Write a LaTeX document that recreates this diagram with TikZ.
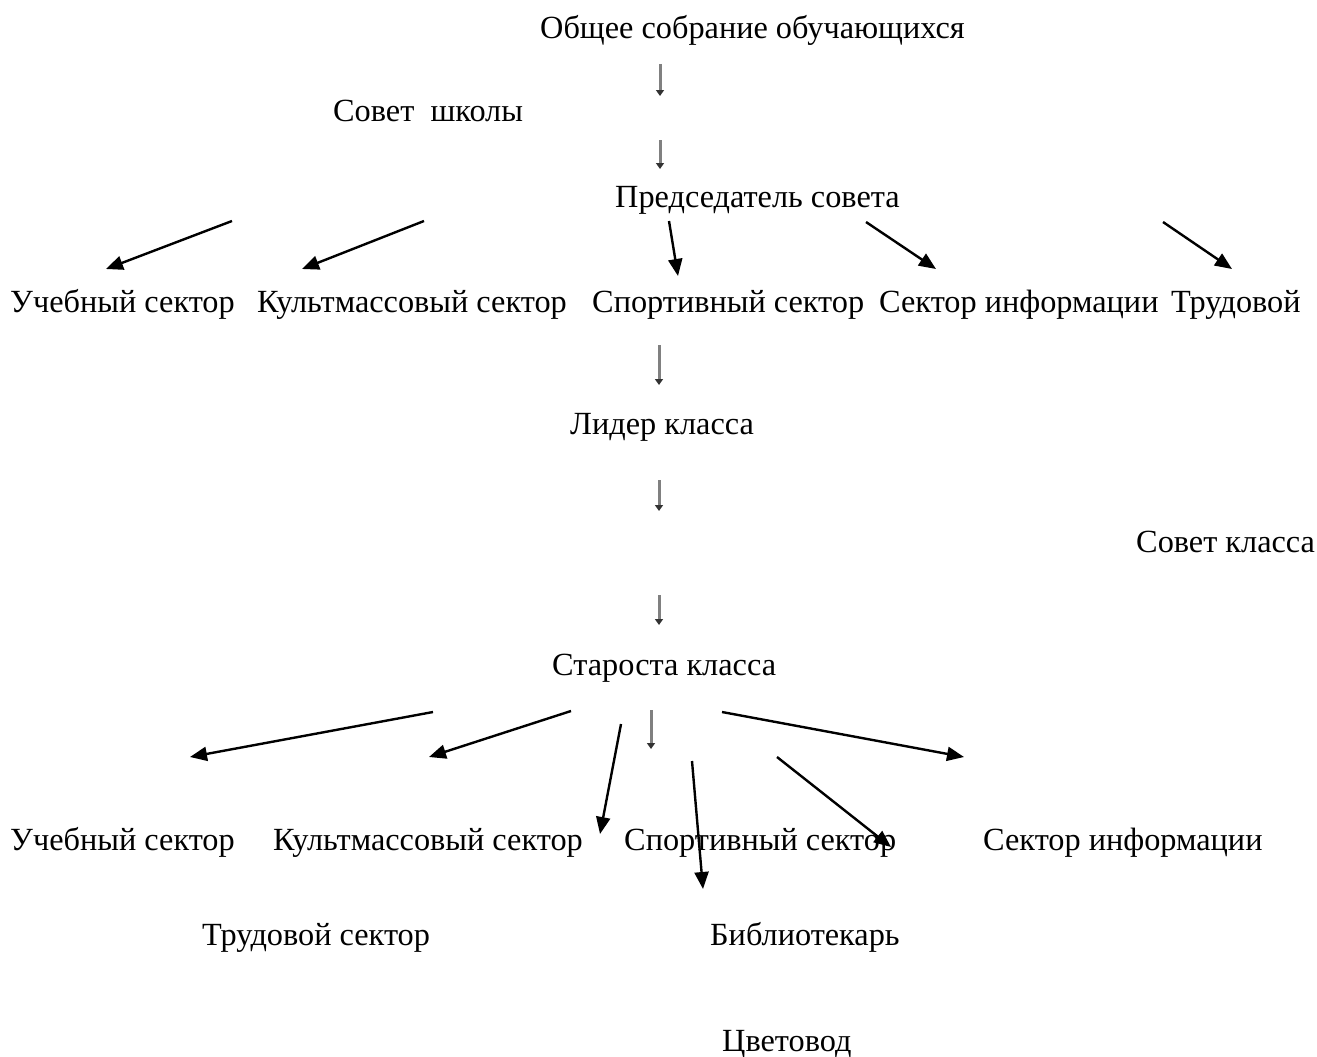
\documentclass[tikz,border=0pt]{standalone}
\usepackage{fontspec}
\setmainfont{Liberation Serif}
\usetikzlibrary{arrows.meta}
\begin{document}
\begin{tikzpicture}[x=1pt,y=-1pt,
  lbl/.style={anchor=base west,inner sep=0pt,font=\fontsize{32.3}{38}\selectfont},
  blk/.style={line width=2.4pt,-{Triangle[length=17pt,width=14pt]}},
  gry/.style={draw=black!50,line width=3pt,-{Triangle[length=6pt,width=8pt,color=black!80]}}]
\useasboundingbox[fill=white] (0,0) rectangle (1317,1057);
% texts
\node[lbl] (top) at (540,39) {Общее собрание обучающихся};
\node[lbl] (ss) at (333,121) {Совет\ \ школы};
\node[lbl] (pred) at (615,207) {Председатель совета};
\node[lbl] (u1) at (10,312) {Учебный сектор};
\node[lbl] (k1) at (257,312) {Культмассовый сектор};
\node[lbl] (s1) at (592,312) {Спортивный сектор};
\node[lbl] (i1) at (879,312) {Сектор информации};
\node[lbl] (t1) at (1171,312) {Трудовой};
\node[lbl] (lid) at (570,434) {Лидер класса};
\node[lbl] (sk) at (1136,552) {Совет класса};
\node[lbl] (star) at (552,675) {Староста класса};
\node[lbl] (u2) at (10,850) {Учебный сектор};
\node[lbl] (k2) at (273,850) {Культмассовый сектор};
\node[lbl] (s2) at (624,850) {Спортивный сектор};
\node[lbl] (i2) at (983,850) {Сектор информации};
\node[lbl] (t2) at (202,945) {Трудовой сектор};
\node[lbl] (bib) at (710,945) {Библиотекарь};
\node[lbl] (cv) at (722,1051) {Цветовод};
% gray arrows
\coordinate (g1a) at (660,64);  \coordinate (g1b) at (660,96);
\coordinate (g2a) at (660,140); \coordinate (g2b) at (660,169);
\coordinate (g3a) at (659,345); \coordinate (g3b) at (659,385);
\coordinate (g4a) at (659,480); \coordinate (g4b) at (659,511);
\coordinate (g5a) at (659,595); \coordinate (g5b) at (659,625);
\coordinate (g6a) at (651,710); \coordinate (g6b) at (651,749);
\foreach \g in {g1,g2,g3,g4,g5,g6} \draw[gry] (\g a) -- (\g b);
% black arrows, top fan
\coordinate (a1a) at (232,221); \coordinate (a1b) at (106,269);
\coordinate (a2a) at (424,221); \coordinate (a2b) at (302,269);
\coordinate (a3a) at (669,221); \coordinate (a3b) at (678,276);
\coordinate (a4a) at (866,222); \coordinate (a4b) at (936,269);
\coordinate (a5a) at (1163,222); \coordinate (a5b) at (1232,269);
% black arrows, bottom fan
\coordinate (b1a) at (433,712); \coordinate (b1b) at (190,757);
\coordinate (b2a) at (571,711); \coordinate (b2b) at (429,757);
\coordinate (b3a) at (621,724); \coordinate (b3b) at (600,834);
\coordinate (b4a) at (692,761); \coordinate (b4b) at (703,889);
\coordinate (b5a) at (777,757); \coordinate (b5b) at (891,847);
\coordinate (b6a) at (722,712); \coordinate (b6b) at (964,757);
\foreach \a in {a1,a2,a3,a4,a5,b1,b2,b3,b4,b5,b6} \draw[blk] (\a a) -- (\a b);
\end{tikzpicture}
\end{document}
